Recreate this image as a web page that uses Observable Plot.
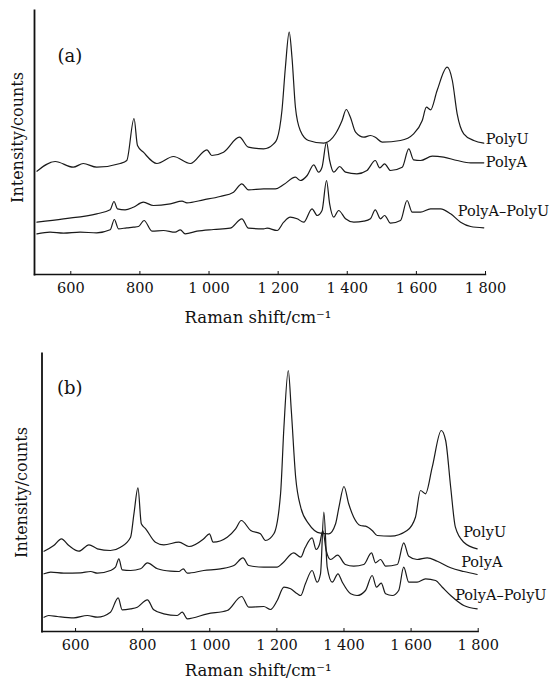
<!DOCTYPE html>
<html><head><meta charset="utf-8">
<script src="https://cdn.jsdelivr.net/npm/d3@7"></script>
<script src="https://cdn.jsdelivr.net/npm/@observablehq/plot@0.6"></script>
<style>
html,body{margin:0;padding:0;background:#fff;}
#root{position:relative;width:553px;height:682px;overflow:hidden;}
#root > div{position:absolute;left:0;}
</style></head><body>
<div id="root"><div id="pa" style="top:0px"></div><div id="pb" style="top:340px"></div></div>
<script>
// ---- tick labels / texts ----
const tickValues = [600, 800, 1000, 1200, 1400, 1600, 1800];
const tickLabels = ["600", "800", "1 000", "1 200", "1 400", "1 600", "1 800"];
const seriesNames = ["PolyU", "PolyA", "PolyA–PolyU"];
const panelNames = ["(a)", "(b)"];
const xTitle = "Raman shift/cm⁻¹";
const yTitle = "Intensity/counts";

// ---- panel (a) spectra: Raman shift (cm-1) and intensity (arb. counts) ----
const aPolyU_x = [502,555,607,636,675,743,762,783,793,810,849,897,946,994,1008,1042,1088,1114,1158,1187,1197,1211,1221,1232,1240,1250,1264,1288,1332,1366,1385,1397,1409,1424,1448,1467,1481,1501,1554,1592,1617,1629,1641,1660,1689,1704,1718,1737,1766,1795];
const aPolyU_y = [103.3,113,107.3,111,107.3,111,114,156,129,122.3,111,118,111,124.7,119,122.3,137.3,127.3,125.7,130.7,135.7,164,207.3,242.3,217.3,167.3,144,134,131.3,140.7,154,165,157.3,142.3,137.3,139,137.3,132.3,134,140.7,154,167.3,164.7,184,207.3,194,160.7,140.7,134,131.3];

const aPolyA_x = [502,579,675,714,725,735,757,781,810,839,888,922,936,984,1032,1071,1095,1114,1158,1177,1192,1216,1250,1264,1284,1303,1317,1327,1340,1349,1361,1378,1395,1428,1457,1481,1494,1508,1525,1559,1578,1592,1612,1646,1679,1718,1757,1795];
const aPolyA_y = [52.3,55.7,60.7,64.7,73,65.7,64.7,67.3,72.3,69,70.7,73.3,71.7,74.7,78,82.3,90.7,84.7,85.7,85.7,85.7,90,97.3,94,99,109.7,102.3,107.3,132.3,114,102.3,108,102.3,100.7,104,114,106.7,110.7,104,107.3,125.7,114.7,114,118.3,117.3,114,111.7,111.7];

const aPolyAU_x = [502,540,579,627,675,714,726,738,762,781,796,812,835,868,902,917,931,965,1013,1061,1095,1114,1158,1168,1197,1216,1235,1255,1274,1298,1313,1327,1340,1349,1361,1375,1395,1419,1448,1467,1481,1496,1508,1525,1554,1573,1588,1612,1641,1670,1699,1728,1757,1795];
const aPolyAU_y = [40.7,42.3,41.3,42.3,41.7,44.7,55,45.7,46.7,47.3,48,54,43.3,44,42.3,44.7,40.7,43.3,45,46.3,55.7,46.3,45.7,46.3,44,52.3,57.3,55.7,52.3,65.7,59,64,94,70.7,57.3,64,55.7,52.3,53.3,55.7,64.7,55.7,59,51.3,54,74,62.3,62.3,65.7,65.7,60.7,52.3,48,46.7];

// ---- panel (b) spectra ----
const bPolyU_x = [506,535,558,580,610,640,665,704,734,764,774,786,796,809,838,863,908,938,982,999,1010,1052,1077,1094,1122,1151,1166,1191,1211,1221,1234,1243,1256,1271,1295,1330,1355,1375,1385,1400,1414,1429,1449,1464,1484,1499,1539,1588,1613,1628,1643,1663,1690,1703,1718,1732,1757,1797];
const bPolyU_y = [80.3,86,92.7,86,80.3,86.7,82.7,81,84.3,94.3,117.7,143.7,107.7,102.7,89.3,86.7,89.3,85,92.7,97.7,89.3,94.3,102.7,111,101,97.7,91,97.7,137.7,204.3,261,221,154.3,124.3,107.7,98.3,97.7,107.7,124.3,145,127.7,114.3,106,105.3,101,96,95.3,101,114.3,141,137.7,164.3,201,191,144.3,104.3,89.3,82.7];

const bPolyA_x = [506,526,565,615,645,665,704,719,729,739,764,794,814,844,883,908,921,933,982,1032,1072,1099,1116,1161,1201,1216,1250,1271,1284,1305,1317,1327,1337,1347,1360,1381,1404,1429,1459,1482,1494,1509,1524,1559,1578,1593,1618,1648,1678,1718,1757,1797];
const bPolyA_y = [57.7,59.3,58.3,58.7,60,58.3,61,64.3,72.7,61.7,61,62.7,68.7,62.7,60.3,60,62.7,58.3,61,62.7,66,73.7,66,64.3,64.3,68,78.7,74.3,83.7,93.7,82,87,101,81,72,76.3,67,65.3,67,78.7,68.7,72,65.3,67,88.7,75.3,72,73.7,70.3,63.7,60,57];

const bPolyAU_x = [506,520,546,595,635,665,704,727,739,764,784,814,833,863,903,918,933,993,1052,1095,1116,1161,1181,1201,1221,1241,1261,1271,1285,1305,1320,1330,1340,1350,1365,1382,1395,1420,1439,1464,1484,1497,1511,1524,1544,1563,1578,1593,1618,1643,1673,1693,1718,1757,1797];
const bPolyAU_y = [14.3,16,15,13.7,16,14.3,19.3,33.7,21.7,22.7,24.3,31.7,21.7,17.7,16,19.3,12.7,17.7,21,35,24.3,25,22,31,44.3,42.7,37.7,36,47.7,61,49.3,57.7,119.3,64.3,49.3,57.7,49.3,37.7,36,41,56,44.3,48.3,37.7,36,41,64.3,49.3,49.3,52.7,51,44.3,36,26,22.7];

const rows = (wn, y, series) => wn.map((x, i) => ({series, x, y: y[i]}));
const fmt = d => tickLabels[tickValues.indexOf(d)];
const FONT = "'DejaVu Serif', 'Liberation Serif', serif";

function panel(cfg) {
  const data = [
    ...rows(cfg.s[0][0], cfg.s[0][1], seriesNames[0]),
    ...rows(cfg.s[1][0], cfg.s[1][1], seriesNames[1]),
    ...rows(cfg.s[2][0], cfg.s[2][1], seriesNames[2])
  ];
  const labelMarks = seriesNames.map((name, i) =>
    Plot.text(data.filter(d => d.series === name), Plot.selectLast({
      x: "x", y: "y", text: "series", textAnchor: "start",
      dx: cfg.lab[i][0], dy: cfg.lab[i][1], fontSize: 14.5, fill: "#111"
    }))
  );
  return Plot.plot({
    width: 553, height: cfg.height,
    marginLeft: cfg.ml, marginRight: cfg.mr, marginTop: cfg.mt, marginBottom: cfg.mb,
    style: {fontFamily: FONT, background: "#fff", color: "#111"},
    x: {domain: cfg.xd},
    y: {domain: cfg.yd, axis: null},
    marks: [
      Plot.frame({anchor: "left", strokeWidth: 1.8, stroke: "#111"}),
      Plot.frame({anchor: "bottom", strokeWidth: 1.4, stroke: "#111"}),
      Plot.axisX(tickValues, {tickSize: 3, dy: -3, fill: "none", label: null, stroke: "#111"}),
      Plot.axisX(tickValues, {tickSize: 0, tickPadding: 8, tickFormat: fmt, fontSize: 14.5, label: null, fill: "#111"}),
      Plot.line(data, {x: "x", y: "y", z: "series", stroke: "#1a1a1a", strokeWidth: 1.2, curve: "monotone-x"}),
      ...labelMarks,
      Plot.text([cfg.name], {frameAnchor: "top-left", dx: cfg.nameDx, dy: cfg.nameDy, fontSize: 18, fill: "#111"}),
      Plot.text([xTitle], {frameAnchor: "bottom", dx: cfg.xtDx, dy: cfg.xtDy, fontSize: 16.5, fill: "#111"}),
      Plot.text([yTitle], {frameAnchor: "left", textAnchor: "middle", rotate: -90, dx: cfg.ytDx, dy: cfg.ytDy, fontSize: 16, fill: "#111"})
    ]
  });
}

document.getElementById("pa").appendChild(panel({
  height: 330, ml: 34, mr: 68, mt: 10, mb: 56,
  xd: [495, 1800], yd: [0, 264],
  s: [[aPolyU_x, aPolyU_y], [aPolyA_x, aPolyA_y], [aPolyAU_x, aPolyAU_y]],
  lab: [[2, -4], [2, 0], [-26, -16]],
  name: panelNames[0], nameDx: 23, nameDy: 39,
  xtDx: -2, xtDy: 48, ytDx: -17, ytDy: -5
}));

document.getElementById("pb").appendChild(panel({
  height: 342, ml: 41.5, mr: 75.3, mt: 13, mb: 51,
  xd: [500, 1800], yd: [0, 278],
  s: [[bPolyU_x, bPolyU_y], [bPolyA_x, bPolyA_y], [bPolyAU_x, bPolyAU_y]],
  lab: [[-14, -16], [-16, -12], [-22, -13]],
  name: panelNames[1], nameDx: 15, nameDy: 28,
  xtDx: -2, xtDy: 44, ytDx: -20, ytDy: 0
}));
</script>
</body></html>
